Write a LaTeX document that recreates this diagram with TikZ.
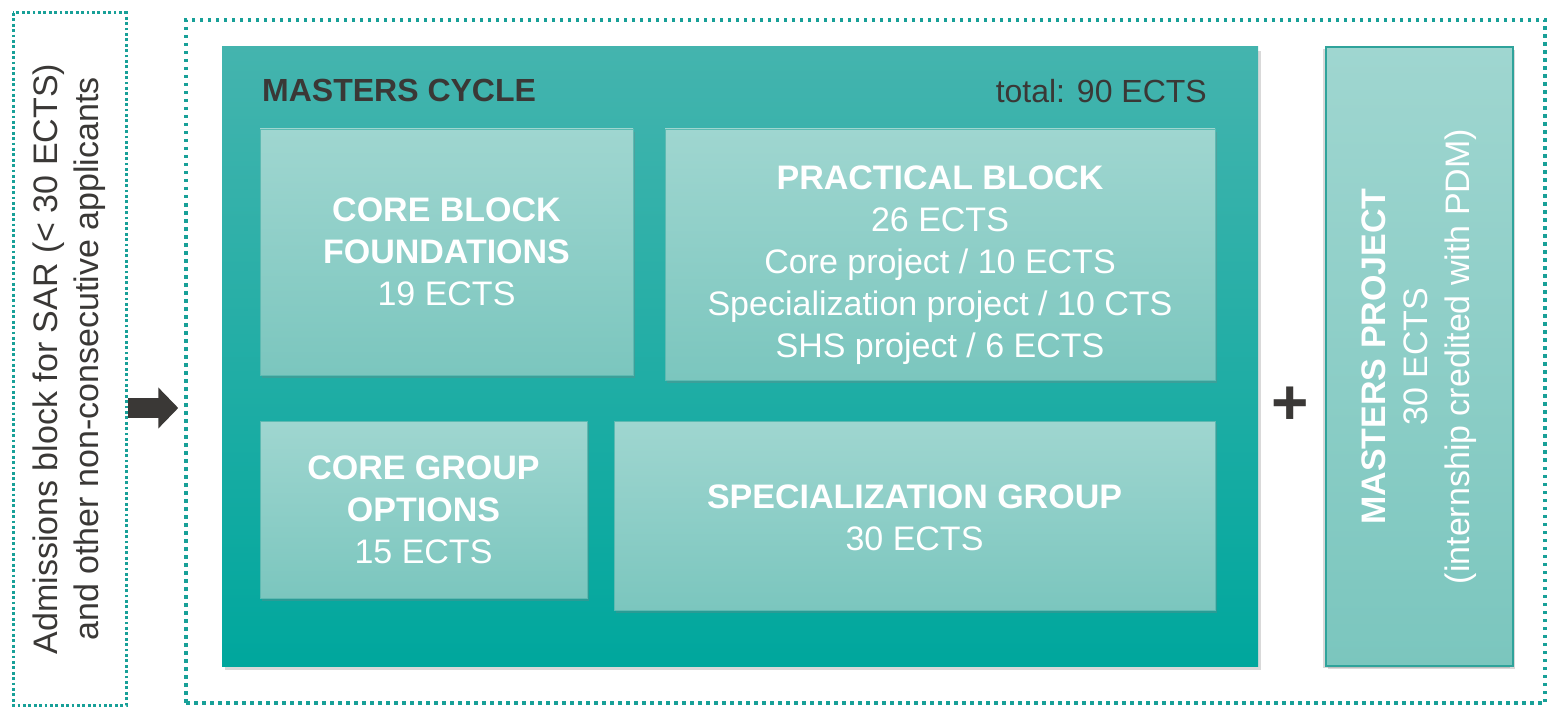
\documentclass[tikz,border=0pt]{standalone}
\usepackage{fontspec}
\setmainfont{Liberation Sans}
\usetikzlibrary{arrows.meta,shadows}

\definecolor{tealdark}{HTML}{00A79D}
\definecolor{teallight}{HTML}{44B4AE}
\definecolor{paletop}{HTML}{9FD6D0}
\definecolor{palebottom}{HTML}{7BC6BE}
\definecolor{paleedge}{HTML}{5DBAB2}
\definecolor{projedge}{HTML}{2FA39B}
\definecolor{dotteal}{HTML}{18A098}
\definecolor{inkgray}{HTML}{3A3836}

\tikzstyle{cyclebox}=[rectangle,top color=teallight,bottom color=tealdark,draw=none,inner sep=0pt,drop shadow={shadow xshift=3pt,shadow yshift=-4pt,opacity=.3}]
\tikzstyle{block}=[rectangle,top color=paletop,bottom color=palebottom,draw=paleedge,line width=0.8pt,inner sep=0pt,text=white,align=center,font=\fontsize{34}{42}\selectfont,drop shadow={shadow xshift=2pt,shadow yshift=-3pt,opacity=.3}]
\tikzstyle{frame}=[rectangle,draw=dotteal,line width=3.5pt,dash pattern=on 3.5pt off 4.5pt]
\tikzstyle{smallframe}=[rectangle,draw=dotteal,line width=3pt,dash pattern=on 2.8pt off 2.6pt,inner sep=0pt,align=center,text=inkgray,font=\fontsize{34}{41}\selectfont]
\tikzstyle{heading}=[text=inkgray,font=\fontsize{32}{38}\selectfont,inner sep=0pt]
\tikzstyle{bigarrow}=[draw=inkgray,line width=20pt,-{Triangle[length=20pt,width=40pt]}]

\begin{document}
\begin{tikzpicture}[x=1pt,y=-1pt]
	\useasboundingbox (0,0) rectangle (1547,708);
	%Dotted frames
	\node[smallframe,rotate=90,minimum width=692pt,minimum height=113pt] (admission) at (69.5,359)
		{Admissions block for SAR (< 30 ECTS)\\and other non-consecutive applicants};
	\node[frame,minimum width=1359pt,minimum height=683pt] (program) at (865.5,361.5) {};
	%Masters cycle
	\node[cyclebox,minimum width=1036pt,minimum height=619pt] (cycle) at (740,356.5) {};
	\node[heading,font=\fontsize{32}{38}\selectfont\bfseries,anchor=base west] (cycletitle) at (262,102) {MASTERS CYCLE};
	\node[heading,anchor=base east] (total) at (1207,103) {total: 90 ECTS};
	%Blocks inside the cycle
	\foreach \pos/\w/\h/\name/\txt in
		{{(446.5,252)/373/246/core/{\textbf{CORE BLOCK}\\\textbf{FOUNDATIONS}\\19 ECTS}},
		 {(940,254.5)/550/251/practical/{\rule{0pt}{45pt}\textbf{PRACTICAL BLOCK}\\26 ECTS\\Core project / 10 ECTS\\Specialization project / 10 CTS\\SHS project / 6 ECTS}},
		 {(423.5,509.5)/327/177/options/{\textbf{CORE GROUP}\\\textbf{OPTIONS}\\15 ECTS}},
		 {(914.5,515.5)/601/189/special/{\rule{0pt}{28pt}\textbf{SPECIALIZATION GROUP}\\30 ECTS}}}
		\node[block,minimum width=\w pt,minimum height=\h pt] (\name) at \pos {\txt};
	%Masters project
	\node[block,rotate=90,draw=projedge,line width=1.2pt,minimum width=619pt,minimum height=187pt,
		drop shadow={shadow xshift=-3pt,shadow yshift=-2pt,opacity=.3}] (project) at (1419.5,356.5)
		{\textbf{MASTERS PROJECT}\\30 ECTS\\(internship credited with PDM)};
	%Plus and arrow
	\node[text=inkgray,font=\fontsize{64}{64}\selectfont\bfseries] (plus) at (1290,406) {+};
	\coordinate (level) at (0,408);
	\draw[bigarrow,shorten >=6pt] (admission.south |- level) -- (program.west |- level);
\end{tikzpicture}
\end{document}
